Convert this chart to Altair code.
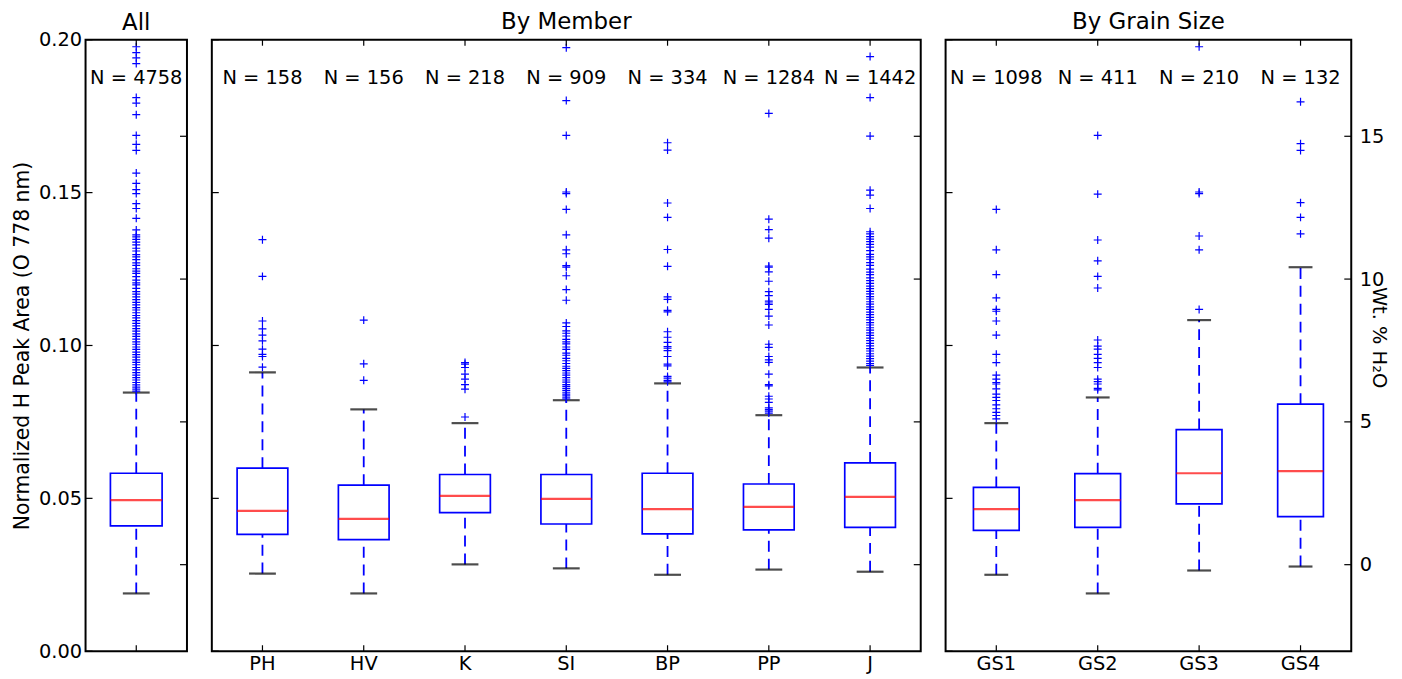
import altair as alt
import pandas as pd

FONT = "DejaVu Sans"
BLUE = "#0000ff"
RED = "#ff0000"

# ---------------- data ----------------
all_cats = ["All"]
all_lo = [0.0189]
all_q1 = [0.0410]
all_med = [0.0494]
all_q3 = [0.0582]
all_hi = [0.0846]
all_n = [4758]
all_out = [[0.1977, 0.1958, 0.1941, 0.1922, 0.1811, 0.1793, 0.1755, 0.1687, 0.1658, 0.1638,
            0.1564, 0.1530, 0.1510, 0.1497, 0.1464, 0.1448, 0.1416, 0.1378, 0.1362, 0.1355,
            0.1347, 0.1338, 0.1329, 0.1318, 0.1309, 0.1297, 0.1290, 0.1281, 0.1270, 0.1262,
            0.1251, 0.1243, 0.1236, 0.1225, 0.1214, 0.1205, 0.1198, 0.1187, 0.1176, 0.1168,
            0.1159, 0.1150, 0.1141, 0.1133, 0.1124, 0.1116, 0.1107, 0.1098, 0.1090, 0.1081,
            0.1072, 0.1064, 0.1055, 0.1047, 0.1038, 0.1030, 0.1021, 0.1012, 0.1004, 0.0995,
            0.0987, 0.0978, 0.0970, 0.0962, 0.0953, 0.0945, 0.0937, 0.0928, 0.0920, 0.0911,
            0.0903, 0.0895, 0.0887, 0.0879, 0.0871, 0.0864, 0.0857, 0.0851]]

member_cats = ["PH", "HV", "K", "SI", "BP", "PP", "J"]
member_lo = [0.0254, 0.0189, 0.0284, 0.0271, 0.0250, 0.0267, 0.0260]
member_q1 = [0.0382, 0.0365, 0.0453, 0.0416, 0.0384, 0.0397, 0.0405]
member_med = [0.0459, 0.0433, 0.0508, 0.0498, 0.0465, 0.0472, 0.0505]
member_q3 = [0.0599, 0.0543, 0.0578, 0.0578, 0.0582, 0.0547, 0.0616]
member_hi = [0.0912, 0.0791, 0.0746, 0.0821, 0.0876, 0.0772, 0.0928]
member_n = [158, 156, 218, 909, 334, 1284, 1442]
out_PH = [0.1346, 0.1226, 0.1080, 0.1054, 0.1034, 0.1015, 0.0988, 0.0971, 0.0964, 0.0929]
out_HV = [0.1083, 0.0940, 0.0886]
out_K = [0.0944, 0.0939, 0.0928, 0.0906, 0.0890, 0.0872, 0.0857, 0.0766]
out_SI = [0.1974, 0.1801, 0.1687, 0.1502, 0.1497, 0.1445, 0.1362, 0.1313, 0.1300, 0.1261,
          0.1256, 0.1228, 0.1183, 0.1148, 0.1074, 0.1062, 0.1048, 0.1040, 0.1031, 0.1020,
          0.1012, 0.1005, 0.0995, 0.0987, 0.0975, 0.0968, 0.0958, 0.0950, 0.0941, 0.0932,
          0.0925, 0.0918, 0.0910, 0.0903, 0.0895, 0.0887, 0.0880, 0.0872, 0.0866, 0.0860,
          0.0853, 0.0847, 0.0841, 0.0835, 0.0829, 0.0825]
out_BP = [0.1663, 0.1639, 0.1466, 0.1419, 0.1314, 0.1259, 0.1159, 0.1151, 0.1115, 0.1110,
          0.1045, 0.1027, 0.1010, 0.0996, 0.0991, 0.0983, 0.0964, 0.0939, 0.0933, 0.0899,
          0.0893, 0.0886, 0.0881]
out_PP = [0.1759, 0.1413, 0.1379, 0.1351, 0.1260, 0.1256, 0.1241, 0.1210, 0.1176, 0.1163,
          0.1145, 0.1139, 0.1134, 0.1118, 0.1096, 0.1067, 0.1004, 0.0994, 0.0964, 0.0953,
          0.0945, 0.0906, 0.0872, 0.0868, 0.0834, 0.0825, 0.0814, 0.0796, 0.0790, 0.0785,
          0.0779]
out_J = [0.1945, 0.1811, 0.1685, 0.1508, 0.1492, 0.1448, 0.1372, 0.1365, 0.1356, 0.1348,
         0.1340, 0.1331, 0.1322, 0.1310, 0.1298, 0.1290, 0.1282, 0.1271, 0.1262, 0.1250,
         0.1240, 0.1232, 0.1221, 0.1212, 0.1203, 0.1194, 0.1186, 0.1177, 0.1169, 0.1160,
         0.1152, 0.1143, 0.1135, 0.1126, 0.1118, 0.1109, 0.1101, 0.1092, 0.1084, 0.1075,
         0.1067, 0.1058, 0.1050, 0.1041, 0.1033, 0.1024, 0.1016, 0.1007, 0.0999, 0.0990,
         0.0982, 0.0973, 0.0965, 0.0957, 0.0949, 0.0941, 0.0935]
member_out = [out_PH, out_HV, out_K, out_SI, out_BP, out_PP, out_J]

gs_cats = ["GS1", "GS2", "GS3", "GS4"]
gs_lo = [0.0250, 0.0189, 0.0264, 0.0277]
gs_q1 = [0.0395, 0.0405, 0.0482, 0.0440]
gs_med = [0.0465, 0.0494, 0.0582, 0.0589]
gs_q3 = [0.0536, 0.0581, 0.0725, 0.0808]
gs_hi = [0.0746, 0.0830, 0.1083, 0.1256]
gs_n = [1098, 411, 210, 132]
out_GS1 = [0.1445, 0.1313, 0.1232, 0.1156, 0.1118, 0.1112, 0.1080, 0.1034, 0.0971, 0.0944,
           0.0903, 0.0890, 0.0879, 0.0874, 0.0858, 0.0841, 0.0830, 0.0820, 0.0806, 0.0793,
           0.0781, 0.0771, 0.0760]
out_GS2 = [0.1687, 0.1495, 0.1345, 0.1277, 0.1226, 0.1188, 0.1018, 0.0998, 0.0988, 0.0971,
           0.0958, 0.0944, 0.0928, 0.0890, 0.0882, 0.0874, 0.0860, 0.0855]
out_GS3 = [0.1977, 0.1502, 0.1497, 0.1358, 0.1313, 0.1118]
out_GS4 = [0.1797, 0.1660, 0.1638, 0.1467, 0.1419, 0.1365]
gs_out = [out_GS1, out_GS2, out_GS3, out_GS4]

value_ticks = [0.0, 0.05, 0.10, 0.15, 0.20]
wt_ticks = [0, 5, 10, 15]
value_domain = [0.0, 0.2]
wt_domain = [-3.03, 18.38]

# ---------------- chart ----------------
H = 615
PLUS = "M-1,0L1,0M0,-1L0,1"
FS = 19.5


def panel(cats, lo, q1, med, q3, hi, n, outl, title, width, box, cap,
          left_axis=False, right_axis=False, bottom_labels=True, title_offset=5):
    stats = pd.DataFrame(dict(cat=cats, lo=lo, q1=q1, med=med, q3=q3, hi=hi,
                              label=[f"N = {k}" for k in n]))
    out = pd.DataFrame([(c, v) for c, vals in zip(cats, outl) for v in vals],
                       columns=["cat", "v"])
    vt = pd.DataFrame({"t": value_ticks})
    wt = pd.DataFrame({"w": wt_ticks})

    xs = alt.Scale(type="band", domain=cats, paddingInner=0, paddingOuter=0)
    if bottom_labels:
        xax = alt.Axis(title=None, ticks=False, domain=False, labelAngle=0,
                       labelFontSize=FS, labelPadding=3, labelColor="black")
    else:
        xax = None
    X = alt.X("cat:N", scale=xs, axis=xax)

    ys = alt.Scale(domain=value_domain, nice=False, zero=False)
    if left_axis:
        yax = alt.Axis(values=value_ticks, format=".2f", ticks=False, domain=False,
                       labelFontSize=FS, labelPadding=4, labelColor="black",
                       title="Normalized H Peak Area (O 778 nm)", titleFontSize=20.5,
                       titleFontWeight="normal", titleColor="black", titlePadding=6)
    else:
        yax = None

    def Y(field):
        return alt.Y(f"{field}:Q", scale=ys, axis=yax)

    base = alt.Chart(stats)
    dash = dict(color=BLUE, strokeWidth=1.8, strokeDash=[11, 7])
    whisk_hi = base.mark_rule(**dash).encode(x=X, y=Y("q3"), y2="hi")
    whisk_lo = base.mark_rule(**dash).encode(x=X, y=Y("lo"), y2="q1")
    boxes = base.mark_bar(size=box, fill="white", stroke=BLUE, strokeWidth=1.7).encode(
        x=X, y=Y("q1"), y2="q3")
    medians = base.mark_tick(size=box, thickness=2.2, color=RED).encode(x=X, y=Y("med"))
    caps_hi = base.mark_tick(size=cap, thickness=2.2, color="black").encode(x=X, y=Y("hi"))
    caps_lo = base.mark_tick(size=cap, thickness=2.2, color="black").encode(x=X, y=Y("lo"))
    pts = alt.Chart(out).mark_point(shape=PLUS, size=64, filled=False, color=BLUE,
                                    strokeWidth=1.2, opacity=1).encode(x=X, y=Y("v"))
    labels = base.mark_text(fontSize=FS, baseline="middle", color="black").encode(
        x=X, y=alt.value(39), text="label")
    lticks = alt.Chart(vt).mark_rule(color="black", strokeWidth=1.2).encode(
        y=Y("t"), x=alt.value(0), x2=alt.value(7))
    tticks = base.mark_rule(color="black", strokeWidth=1.2).encode(
        x=X, y=alt.value(0), y2=alt.value(6))
    bticks = base.mark_rule(color="black", strokeWidth=1.2).encode(
        x=X, y=alt.value(H - 6), y2=alt.value(H))

    inner = alt.layer(whisk_hi, whisk_lo, boxes, medians, caps_hi, caps_lo, pts, labels,
                      lticks, tticks, bticks)

    if right_axis:
        wax = alt.Axis(values=wt_ticks, ticks=False, domain=False, orient="right",
                       labelFontSize=FS, labelPadding=8, labelColor="black",
                       title="Wt. % H\u2082O", titleFontSize=FS, titleFontWeight="normal",
                       titleColor="black", titleAngle=90, titleX=27, titleY=299,
                       titleAlign="center", titleBaseline="middle")
    else:
        wax = None
    rticks = alt.Chart(wt).mark_rule(color="black", strokeWidth=1.2).encode(
        y=alt.Y("w:Q", scale=alt.Scale(domain=wt_domain, nice=False, zero=False), axis=wax),
        x=alt.value(width - 7), x2=alt.value(width))

    return alt.layer(inner, rticks).resolve_scale(y="independent").properties(
        width=width, height=H,
        title=alt.TitleParams(text=title, fontSize=23, fontWeight="normal",
                              offset=title_offset, color="black", anchor="middle",
                              frame="group"))


p_all = panel(all_cats, all_lo, all_q1, all_med, all_q3, all_hi, all_n, all_out,
              "All", 102, 52, 27, left_axis=True, bottom_labels=False, title_offset=-5)
p_mem = panel(member_cats, member_lo, member_q1, member_med, member_q3, member_hi, member_n,
              member_out, "By Member", 713, 51, 27)
p_gs = panel(gs_cats, gs_lo, gs_q1, gs_med, gs_q3, gs_hi, gs_n, gs_out,
             "By Grain Size", 408, 46, 24, right_axis=True)

chart = alt.hconcat(p_all, p_mem, p_gs, spacing=21).properties(
    padding={"left": 3, "top": 0, "right": 5, "bottom": 0}
).configure(
    font=FONT
).configure_view(
    stroke="black", strokeWidth=2
).configure_axis(
    grid=False, labelFont=FONT, titleFont=FONT
)

chart.save("out.html", embed_options={"renderer": "svg", "actions": False})
